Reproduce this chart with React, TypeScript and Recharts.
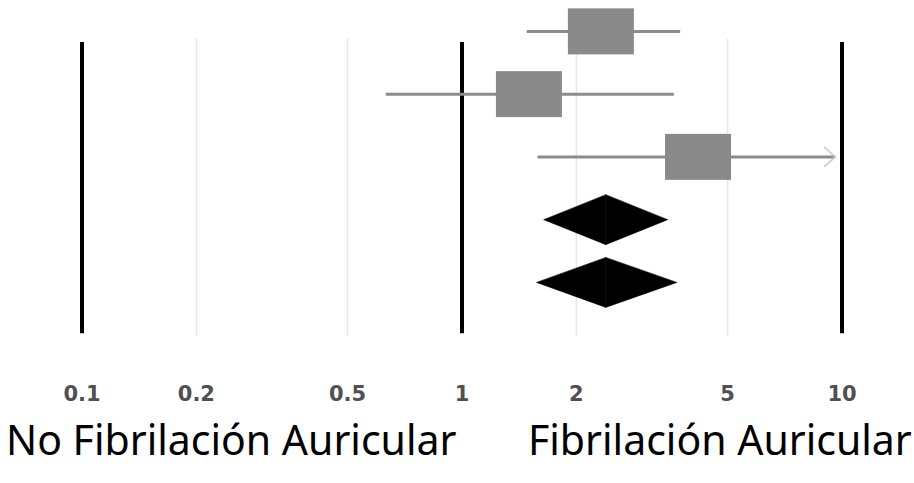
import { ComposedChart, XAxis, YAxis, Scatter, ReferenceLine } from 'recharts'

// Axis ticks (log scale)
const tickValues = [0.1, 0.2, 0.5, 1, 2, 5, 10]
const boldLines = [0.1, 1, 10]
const lightLines = [0.2, 0.5, 2, 5]

// Individual studies (rows 1..3): estimate and confidence interval
const studyRows = [1, 2, 3]
const studyEst = [2.32, 1.5, 4.18]
const studyLow = [1.48, 0.63, 1.58]
const studyHigh = [3.75, 3.61, 14]

// Pooled estimates (rows 4..5) drawn as diamonds
const pooledRows = [4, 5]
const pooledEst = [2.39, 2.39]
const pooledLow = [1.64, 1.57]
const pooledHigh = [3.48, 3.68]

// Vertical reference lines run between these rows
const lineTop = 1.17
const lineBottom = 5.81
const xMin = 0.1
const xMax = 10
const arrowEnd = 9.6

const leftLabel = 'No Fibrilación Auricular'
const rightLabel = 'Fibrilación Auricular'

const studyData = studyRows.map((row, i) => ({ x: studyEst[i], y: row }))

const SquareShape = (props: any) => {
  const { cx, cy } = props
  return <rect x={cx - 33} y={cy - 23} width={66} height={46} fill="#8a8a8a" />
}

const CiLine = (props: any) => {
  const { x1, y1, x2, y2, arrow } = props
  return (
    <g>
      <line x1={x1} y1={y1} x2={x2} y2={y2} stroke="#8c8c8c" strokeWidth={3} />
      {arrow && (
        <polyline
          points={`${x2 - 11},${y2 - 10} ${x2},${y2} ${x2 - 11},${y2 + 10}`}
          fill="none"
          stroke="#cacaca"
          strokeWidth={1.5}
        />
      )}
    </g>
  )
}

// Half diamonds: left half goes from low to estimate, right half from estimate to high
const HalfDiamond = (props: any) => {
  const { x1, y1, x2, side } = props
  const h = 25
  const pts = side === 'left'
    ? `${x1},${y1} ${x2},${y1 - h} ${x2},${y1 + h}`
    : `${x1},${y1 - h} ${x2},${y1} ${x1},${y1 + h}`
  return <polygon points={pts} fill="#000" stroke="#000" strokeWidth={0.5} />
}

const TickLabel = (props: any) => {
  const { x, y, payload } = props
  return (
    <text
      x={x}
      y={y}
      dy={24.5}
      textAnchor="middle"
      fill="#505050"
      fontFamily="DejaVu Sans"
      fontWeight="bold"
      fontSize={21}
    >
      {String(payload.value)}
    </text>
  )
}

const labelStyle = {
  position: 'absolute' as const,
  top: 413,
  fontFamily: 'Noto Sans',
  fontSize: 41,
  color: '#000',
  whiteSpace: 'nowrap' as const,
  lineHeight: '52px'
}

export default function App() {
  return (
    <div style={{ position: 'absolute', left: 0, top: 0, width: 914, height: 483, background: '#fff', overflow: 'hidden' }}>
      <ComposedChart
        width={914}
        height={483}
        margin={{ top: 0, right: 72, left: 82, bottom: 76.5 }}
      >
        <XAxis
          dataKey="x"
          type="number"
          scale="log"
          domain={[xMin, xMax]}
          ticks={tickValues}
          allowDataOverflow
          axisLine={false}
          tickLine={false}
          tickSize={0}
          tickMargin={0}
          height={30}
          interval={0}
          tick={<TickLabel />}
        />
        <YAxis dataKey="y" type="number" domain={[0.5, 6.5]} reversed hide />

        {lightLines.map((v) => (
          <ReferenceLine
            key={`g${v}`}
            segment={[{ x: v, y: lineTop - 0.05 }, { x: v, y: lineBottom + 0.05 }]}
            stroke="#e6e6e6"
            strokeWidth={1.5}
          />
        ))}
        {boldLines.map((v) => (
          <ReferenceLine
            key={`b${v}`}
            segment={[{ x: v, y: lineTop }, { x: v, y: lineBottom }]}
            stroke="#000"
            strokeWidth={4}
            ifOverflow="visible"
          />
        ))}

        {studyRows.map((row, i) => (
          <ReferenceLine
            key={`ci${row}`}
            segment={[
              { x: studyLow[i], y: row },
              { x: Math.min(studyHigh[i], arrowEnd), y: row }
            ]}
            shape={(p: any) => <CiLine {...p} arrow={studyHigh[i] > xMax} />}
          />
        ))}

        <Scatter data={studyData} shape={<SquareShape />} isAnimationActive={false} />

        {pooledRows.map((row, i) => (
          <ReferenceLine
            key={`dl${row}`}
            segment={[{ x: pooledLow[i], y: row }, { x: pooledEst[i], y: row }]}
            shape={(p: any) => <HalfDiamond {...p} side="left" />}
          />
        ))}
        {pooledRows.map((row, i) => (
          <ReferenceLine
            key={`dr${row}`}
            segment={[{ x: pooledEst[i], y: row }, { x: pooledHigh[i], y: row }]}
            shape={(p: any) => <HalfDiamond {...p} side="right" />}
          />
        ))}
      </ComposedChart>
      <div style={{ ...labelStyle, left: 6 }}>{leftLabel}</div>
      <div style={{ ...labelStyle, left: 528 }}>{rightLabel}</div>
    </div>
  )
}
